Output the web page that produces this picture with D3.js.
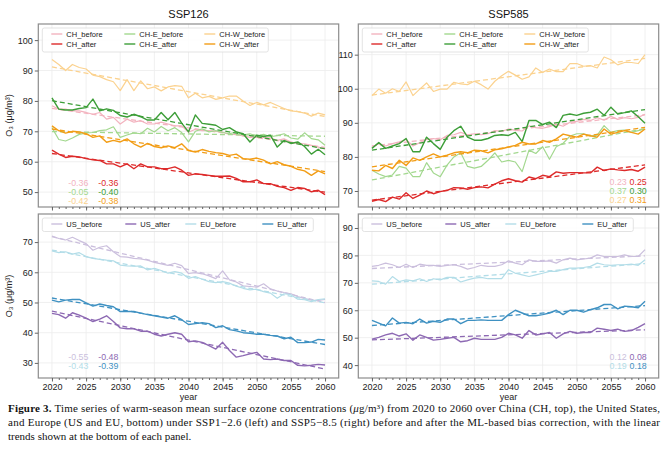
<!DOCTYPE html>
<html>
<head>
<meta charset="utf-8">
<script src="https://cdn.jsdelivr.net/npm/d3@7"></script>
<style>
  body { margin: 0; background: #fff; }
  svg { display: block; font-family: "Liberation Sans", Arial, sans-serif; }
</style>
</head>
<body>
<svg id="chart" width="667" height="462"></svg>
<script>
const years = [2020, 2021, 2022, 2023, 2024, 2025, 2026, 2027, 2028, 2029, 2030,
  2031, 2032, 2033, 2034, 2035, 2036, 2037, 2038, 2039, 2040,
  2041, 2042, 2043, 2044, 2045, 2046, 2047, 2048, 2049, 2050,
  2051, 2052, 2053, 2054, 2055, 2056, 2057, 2058, 2059, 2060];
const xTicks = [2020, 2025, 2030, 2035, 2040, 2045, 2050, 2055, 2060];

// SSP126, China
const chBefore126 = [78.4, 77.3, 77.3, 76.7, 76.7, 76.2, 75.6, 76.2, 74, 74.6, 72.4, 74, 73, 73.5, 72.4, 72.4, 73, 72.4, 71.8, 71.8, 69.7, 70.7, 70.2, 70.2, 70, 69.7, 69, 69, 68.5, 68, 68, 68, 67.8, 67, 67.5, 66.5, 65.9, 65.9, 65.4, 64.8, 64.2];
const chAfter126 = [63.8, 62.5, 61.4, 61.8, 61.6, 61, 60.6, 60.4, 59.3, 59.3, 58.3, 59.3, 57.7, 59.3, 58.3, 58.3, 57.7, 57.7, 58.3, 57.2, 55.5, 56, 55.8, 55.5, 55.2, 55.2, 55.3, 54.5, 53.4, 53.4, 54, 52.8, 52.8, 51.9, 51.5, 50.6, 51.5, 51.2, 50.1, 50.6, 49.2];
const cheBefore126 = [71.2, 67.3, 66.8, 67.8, 69, 69.5, 69.6, 70.2, 70.5, 71.5, 68, 68.8, 69.5, 69.2, 71, 69.8, 71.6, 70.2, 71.2, 69.6, 66.5, 70, 70.8, 69.8, 70.2, 69.6, 69.2, 69.8, 68.8, 69.2, 68.4, 69, 68.2, 68.6, 69.2, 67.8, 67.4, 69.5, 67.6, 67.2, 65.4];
const cheAfter126 = [81, 77.3, 77, 77, 77.5, 77.8, 80.6, 76.7, 77.4, 76.9, 75.2, 74.7, 75.6, 74.8, 73.7, 73.7, 76.2, 73.8, 76.2, 72.7, 69.8, 75.4, 72.6, 72.3, 72, 70.6, 71.2, 69.8, 69.2, 66.5, 68.7, 68.3, 68.7, 64.8, 67, 66, 66.5, 65, 62.5, 64.1, 62.3];
const chwBefore126 = [93.6, 92, 90, 92, 91, 90.5, 88.5, 88, 87, 86.3, 83.4, 87, 83.4, 86.6, 84, 84.6, 83.3, 84.6, 85, 84.8, 81, 82.5, 81, 81.5, 80.5, 81, 81.6, 81.6, 80, 78.5, 79.5, 78.7, 79.5, 78.5, 77.5, 76.7, 76.5, 76, 75, 76, 75.4];
const chwAfter126 = [71.8, 70.2, 69.4, 70, 69.8, 69.2, 68, 68.5, 66.4, 67, 66.5, 67.5, 65.9, 64.8, 66, 65, 64.6, 65.2, 64.6, 65.9, 63.7, 63.2, 64, 63.4, 63, 62.7, 62.1, 62.5, 61, 60.8, 61.2, 60.5, 59.3, 60, 59, 58.5, 57.5, 57, 55.5, 57, 56];

// SSP585, China
const chBefore585 = [82.9, 83.9, 83.2, 83.9, 84.4, 85.1, 83.2, 84.2, 85.1, 85.4, 85, 86.3, 86.5, 87.2, 86.5, 86.8, 86.5, 86.8, 87.7, 87.5, 88.2, 87.8, 87.6, 89.1, 88.6, 88.4, 88.9, 89.6, 89, 90.2, 90.4, 91, 90.7, 91.5, 90.8, 91.9, 91, 91.5, 91.2, 91.6, 92.5];
const chAfter585 = [67, 67.5, 66.9, 68.2, 67.6, 69.5, 67.8, 68.8, 70, 69.2, 69.8, 70.2, 71, 70.9, 70.5, 71, 71.2, 70.9, 72, 73, 73.6, 73, 72.6, 74.1, 73.6, 74.6, 74.2, 75.6, 75.2, 75.4, 75.4, 75.3, 75.3, 77, 76, 76.5, 76.2, 76, 76.3, 75.8, 77];
const cheBefore585 = [76.1, 75, 74.2, 74.7, 77.2, 76.7, 74.2, 74.2, 78.3, 75.3, 74.2, 77.6, 80, 81.2, 77.2, 76.7, 77.2, 79, 81.2, 78.5, 79, 78.5, 75.7, 82, 81, 83, 79.3, 83, 84, 86.1, 86.8, 86.8, 86.1, 86.4, 89.2, 87.2, 87.7, 87.9, 87.2, 87.7, 88.2];
const cheAfter585 = [82.5, 84.2, 82.5, 83.2, 83.9, 85.4, 81.5, 81.5, 85.8, 83.9, 82.2, 85.8, 87.7, 89, 85.8, 84.9, 84.9, 85.4, 86.3, 86.5, 86.3, 87.2, 84.5, 90.7, 90.7, 89.5, 90.2, 88.6, 92.2, 92.6, 92.2, 92.8, 93.1, 94, 92.2, 94.6, 92.6, 93, 93.5, 91.8, 89.9];
const chwBefore585 = [98, 99.9, 98.7, 100, 99.2, 102, 98, 99.9, 101.7, 99.2, 99.9, 99.9, 101.9, 101.4, 101.2, 102.2, 101.2, 99.9, 102.2, 103.8, 105.1, 104, 102.8, 103.5, 106.1, 104.8, 105.8, 105, 105, 107.4, 107.4, 106.6, 106.8, 106.1, 109.3, 108.5, 107, 107.7, 107.7, 107.4, 110];
const chwAfter585 = [76.1, 75.9, 77.5, 76.6, 79, 77.5, 79.7, 79, 80, 80.9, 80, 80.5, 81.2, 81.5, 81.2, 82, 81.8, 81.2, 82.1, 82.4, 82.9, 83.4, 84.3, 83.8, 83.8, 84.8, 84.3, 85.3, 86.7, 86.2, 85.8, 86.7, 86.2, 85.8, 88.2, 86.7, 87.2, 87.7, 87.2, 86.7, 88.2];

// SSP126, US and EU
const usBefore126 = [72, 71.2, 70.7, 71.6, 70.5, 69.5, 67.3, 68.3, 68.8, 66.8, 65.2, 65, 64.6, 64.4, 64, 63.3, 62.8, 62.3, 63, 62.2, 59.6, 59.9, 59.5, 58.8, 57.9, 60.5, 57.5, 56.8, 55.5, 55.3, 55.1, 56.2, 54.5, 53.8, 53.3, 52.9, 52, 51.3, 50.8, 50.7, 51];
const usAfter126 = [46.4, 46, 44.8, 46.6, 45.8, 44.8, 43.7, 44.5, 45.6, 43.7, 41.6, 41.3, 41.3, 40.5, 40.5, 39.5, 38.9, 39.5, 40, 39.5, 37, 37.3, 36.8, 35.7, 34.6, 36.8, 34.1, 31.9, 32.4, 33, 33.5, 31.3, 31.1, 31.3, 30.8, 30.8, 29.2, 29, 29.2, 29.5, 29.3];
const euBefore126 = [67.1, 66.5, 66.8, 66, 66.5, 65.2, 64.6, 64.3, 64, 63.8, 62.4, 62.1, 62, 62.1, 60.8, 61.3, 60.6, 59.7, 60.2, 59.7, 58, 58.6, 57.7, 56.9, 56.6, 56.9, 56.4, 55.4, 54.7, 54.2, 54.4, 53.6, 53.1, 51.4, 52.9, 52.6, 51.1, 50.9, 50.3, 51, 51.2];
const euAfter126 = [50.8, 50.2, 50.8, 51, 51, 49.9, 48.8, 49.5, 49, 48.6, 47, 47, 47, 46.5, 46, 45.6, 45.2, 44.8, 45.6, 44.3, 42.7, 43, 43.3, 43, 41.7, 42.3, 41, 40.6, 40, 39.8, 39.5, 39.5, 39.1, 38.9, 38, 38.5, 36.7, 36.7, 36.9, 37.8, 37.6];

// SSP585, US and EU
const usBefore585 = [76, 76.4, 77.2, 76.6, 75.6, 76.8, 75.6, 76.8, 76.4, 76.4, 76, 76.4, 76.6, 76, 75, 75.6, 76.4, 76, 76, 76.6, 78, 77.2, 76.6, 78.4, 77.8, 77.8, 78, 77.2, 78.4, 79, 78.4, 78.7, 79, 80.2, 79.6, 79.6, 79.6, 80.2, 79.6, 79.6, 82.1];
const usAfter585 = [49.5, 50.1, 51, 51.6, 50.6, 51.4, 49.1, 51, 50.1, 49.1, 49.4, 49.8, 50.1, 48.5, 48.9, 49.8, 49.4, 49.4, 49.4, 50.1, 51.6, 51, 49.8, 52.6, 51, 51.4, 51.9, 49.8, 51.4, 52.3, 51.6, 51.9, 51.9, 53.5, 53.1, 52.6, 53.1, 52.3, 52.6, 53.8, 55.1];
const euBefore585 = [70.7, 70.5, 69.5, 72.3, 70.5, 71.1, 70.7, 71.5, 70.5, 71.5, 71.1, 72, 72, 70.3, 71.1, 71.7, 72, 71.5, 71.5, 71.5, 74.8, 73.5, 72.9, 72.3, 72.9, 73.5, 74.2, 74.2, 74.8, 75.4, 75.4, 75.6, 76, 77.2, 76.6, 76.4, 76.6, 76.6, 76.8, 76.4, 78.4];
const euAfter585 = [56.3, 55.3, 54.3, 57.2, 55.3, 55.6, 55.1, 56.8, 55.3, 56, 55.6, 56.8, 56.8, 55.1, 56.3, 56.3, 56.5, 56.3, 56.3, 56.3, 58.4, 60, 59, 58, 58, 58.4, 59, 60, 58.4, 60, 60, 59.3, 60.2, 60.9, 62.1, 62.1, 60.5, 61.5, 61.3, 60.9, 63.3];

// trend labels (before, after) printed in each panel
const trendCH126 = [["-0.36", "-0.36"], ["-0.05", "-0.40"], ["-0.42", "-0.38"]];
const trendCH585 = [["0.23", "0.25"], ["0.37", "0.30"], ["0.27", "0.31"]];
const trendUE126 = [["-0.55", "-0.48"], ["-0.43", "-0.39"]];
const trendUE585 = [["0.12", "0.08"], ["0.19", "0.18"]];

const C = {
  chB: "#f3b3bf", chA: "#dd2a2a",
  cheB: "#a3d88f", cheA: "#3d9e38",
  chwB: "#fbd28f", chwA: "#f29d16",
  usB: "#cbbfdd", usA: "#8d69b3",
  euB: "#b3dde8", euA: "#3f91c2"
};

const svg = d3.select("#chart");

function fit(vals) {
  const mx = d3.mean(years), my = d3.mean(vals);
  const b = d3.sum(years, (t, i) => (t - mx) * (vals[i] - my)) / d3.sum(years, t => (t - mx) ** 2);
  return t => my + b * (t - mx);
}

function panel(o) {
  const g = svg.append("g").attr("transform", `translate(${o.x},${o.y})`);
  const x = d3.scaleLinear().domain([2018, 2062]).range([0, o.w]);
  const y = d3.scaleLinear().domain(o.yDomain).range([o.h, 0]);

  // light grid
  g.append("g").selectAll("line").data(xTicks).join("line")
    .attr("x1", d => x(d)).attr("x2", d => x(d)).attr("y1", 0).attr("y2", o.h)
    .attr("stroke", "#ececec").attr("stroke-width", 0.8);
  g.append("g").selectAll("line").data(o.yTicks).join("line")
    .attr("x1", 0).attr("x2", o.w).attr("y1", d => y(d)).attr("y2", d => y(d))
    .attr("stroke", "#ececec").attr("stroke-width", 0.8);

  const line = d3.line().x((d, i) => x(years[i])).y(d => y(d));

  o.series.forEach(s => {
    g.append("path").attr("d", line(s.values))
      .attr("fill", "none").attr("stroke", s.color)
      .attr("stroke-width", s.after ? 1.4 : 1.2).attr("stroke-linejoin", "round");
    const f = fit(s.values);
    g.append("line")
      .attr("x1", x(years[0])).attr("x2", x(years[years.length - 1]))
      .attr("y1", y(f(years[0]))).attr("y2", y(f(years[years.length - 1])))
      .attr("stroke", s.color).attr("stroke-width", 1.3).attr("stroke-dasharray", "5,3");
  });

  // frame
  g.append("rect").attr("width", o.w).attr("height", o.h)
    .attr("fill", "none").attr("stroke", "#8c8c8c").attr("stroke-width", 1.2);

  // axes
  const ax = g.append("g").attr("transform", `translate(0,${o.h})`)
    .call(d3.axisBottom(x).tickValues(years).tickSize(2).tickFormat(""));
  ax.select(".domain").remove();
  ax.selectAll("line").attr("stroke", "#666");
  const axM = g.append("g").attr("transform", `translate(0,${o.h})`)
    .call(d3.axisBottom(x).tickValues(xTicks).tickSize(3.5).tickPadding(2)
      .tickFormat(o.xLabels ? d3.format("d") : ""));
  axM.select(".domain").remove();
  axM.selectAll("line").attr("stroke", "#666");
  axM.selectAll("text").attr("font-size", 9).attr("fill", "#222")
    .attr("font-family", "Liberation Sans, Arial, sans-serif");

  const ay = g.append("g")
    .call(d3.axisLeft(y).tickValues(o.yTicks).tickSize(3.5).tickPadding(2).tickFormat(d3.format("d")));
  ay.select(".domain").remove();
  ay.selectAll("line").attr("stroke", "#666");
  ay.selectAll("text").attr("font-size", 9).attr("fill", "#222")
    .attr("font-family", "Liberation Sans, Arial, sans-serif");

  // legend
  const lg = g.append("g");
  lg.append("rect").attr("x", 4).attr("y", 4).attr("width", o.legend.w).attr("height", o.legend.h)
    .attr("rx", 2).attr("fill", "#fff").attr("fill-opacity", 0.85)
    .attr("stroke", "#dcdcdc").attr("stroke-width", 0.8);
  o.series.forEach((s, i) => {
    const col = Math.floor(i / o.legend.rows), row = i % o.legend.rows;
    const tx = o.legend.cols[col], ty = 10 + row * 10;
    lg.append("line").attr("x1", tx - 15).attr("x2", tx - 4).attr("y1", ty).attr("y2", ty)
      .attr("stroke", s.color).attr("stroke-width", 1.4);
    lg.append("text").attr("x", tx).attr("y", ty).attr("dy", "0.35em")
      .attr("font-size", 7.5).attr("fill", "#222").text(s.name);
  });

  // trend numbers
  o.trends.forEach((pair, r) => {
    const ty = o.h + o.trendRows[r];
    const cB = o.series[r * 2].color, cA = o.series[r * 2 + 1].color;
    const fs = 8.8;
    if (o.trendRight) {
      g.append("text").attr("x", o.w - 32).attr("y", ty).attr("dy", "0.35em").attr("text-anchor", "end")
        .attr("font-size", fs).attr("fill", cB).text(pair[0]);
      g.append("text").attr("x", o.w - 12).attr("y", ty).attr("dy", "0.35em").attr("text-anchor", "end")
        .attr("font-size", fs).attr("fill", cA).text(pair[1]);
    } else {
      g.append("text").attr("x", 30).attr("y", ty).attr("dy", "0.35em")
        .attr("font-size", fs).attr("fill", cB).text(pair[0]);
      g.append("text").attr("x", 60).attr("y", ty).attr("dy", "0.35em")
        .attr("font-size", fs).attr("fill", cA).text(pair[1]);
    }
  });

  if (o.title) {
    g.append("text").attr("x", o.w / 2).attr("y", -6).attr("text-anchor", "middle")
      .attr("font-size", 11).attr("fill", "#111").text(o.title);
  }
  if (o.yLabel) {
    g.append("text").attr("transform", `translate(-26,${o.h / 2}) rotate(-90)`)
      .attr("text-anchor", "middle").attr("font-size", 9).attr("fill", "#222")
      .text("O₃ (μg/m³)");
  }
  if (o.xLabels) {
    g.append("text").attr("x", o.w / 2).attr("y", o.h + 22).attr("text-anchor", "middle")
      .attr("font-size", 9).attr("fill", "#222").text("year");
  }
}

const chSeries = (b, a, be, ae, bw, aw) => [
  { name: "CH_before", values: b, color: C.chB },
  { name: "CH_after", values: a, color: C.chA, after: true },
  { name: "CH-E_before", values: be, color: C.cheB },
  { name: "CH-E_after", values: ae, color: C.cheA, after: true },
  { name: "CH-W_before", values: bw, color: C.chwB },
  { name: "CH-W_after", values: aw, color: C.chwA, after: true }
];
const ueSeries = (ub, ua, eb, ea) => [
  { name: "US_before", values: ub, color: C.usB },
  { name: "US_after", values: ua, color: C.usA, after: true },
  { name: "EU_before", values: eb, color: C.euB },
  { name: "EU_after", values: ea, color: C.euA, after: true }
];

const W = 300.4, LX = 38.3, RX = 358.3;
const topLegend = { w: 226, h: 24, rows: 2, cols: [28, 101, 181] };
const botLegend = { w: 271, h: 13.5, rows: 1, cols: [28, 102, 162, 239] };

panel({ x: LX, y: 24, w: W, h: 183, yDomain: [45.1, 105.3], yTicks: [50, 60, 70, 80, 90, 100],
  series: chSeries(chBefore126, chAfter126, cheBefore126, cheAfter126, chwBefore126, chwAfter126),
  legend: topLegend, trends: trendCH126, trendRows: [-24.5, -15.5, -6.5], title: "SSP126", yLabel: true });
panel({ x: RX, y: 24, w: W, h: 183, yDomain: [65.3, 119], yTicks: [70, 80, 90, 100, 110],
  series: chSeries(chBefore585, chAfter585, cheBefore585, cheAfter585, chwBefore585, chwAfter585),
  legend: topLegend, trends: trendCH585, trendRows: [-25, -16, -7], trendRight: true, title: "SSP585" });
panel({ x: LX, y: 214, w: W, h: 164, yDomain: [25, 79.3], yTicks: [30, 40, 50, 60, 70],
  series: ueSeries(usBefore126, usAfter126, euBefore126, euAfter126),
  legend: botLegend, trends: trendUE126, trendRows: [-21, -12], yLabel: true, xLabels: true });
panel({ x: RX, y: 214, w: W, h: 164, yDomain: [35.3, 95.1], yTicks: [40, 50, 60, 70, 80, 90],
  series: ueSeries(usBefore585, usAfter585, euBefore585, euAfter585),
  legend: botLegend, trends: trendUE585, trendRows: [-21, -12], trendRight: true, xLabels: true });

// caption
const cap = svg.append("g").attr("font-family", "Liberation Serif, Times New Roman, serif")
  .attr("font-size", 11).attr("fill", "#111");
const l1 = cap.append("text").attr("x", 8).attr("y", 412).attr("textLength", 652).attr("lengthAdjust", "spacing");
l1.append("tspan").attr("font-weight", "bold").text("Figure 3.");
l1.append("tspan").text(" Time series of warm-season mean surface ozone concentrations (");
l1.append("tspan").attr("font-style", "italic").text("μ");
l1.append("tspan").text("g/m³) from 2020 to 2060 over China (CH, top), the United States,");
cap.append("text").attr("x", 8).attr("y", 426).attr("textLength", 652).attr("lengthAdjust", "spacing")
  .text("and Europe (US and EU, bottom) under SSP1−2.6 (left) and SSP5−8.5 (right) before and after the ML-based bias correction, with the linear");
cap.append("text").attr("x", 8).attr("y", 440).text("trends shown at the bottom of each panel.");
</script>
</body>
</html>
